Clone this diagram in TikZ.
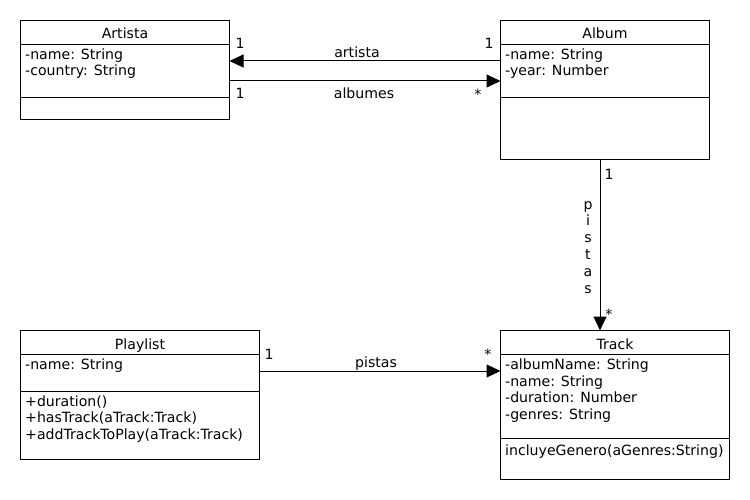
\documentclass[tikz,border=0pt]{standalone}
\usepackage{fontspec}
\setmainfont{DejaVu Sans}
\usetikzlibrary{arrows.meta}
\newcommand{\umlfont}{\fontsize{14.1}{16}\selectfont}
\begin{document}
\begin{tikzpicture}[x=1pt,y=-1pt,
  box/.style={draw,line width=1pt,inner sep=0pt,outer sep=0pt,anchor=north west},
  sep/.style={line width=1pt},
  txt/.style={inner sep=0pt,anchor=base west,font=\umlfont},
  ttl/.style={inner sep=0pt,anchor=base,font=\umlfont},
  lbl/.style={inner sep=0pt,anchor=base,font=\umlfont},
  assoc/.style={line width=1pt,-{Triangle[length=14pt,width=13pt]}}]
\useasboundingbox (0,0) rectangle (750,500);

% boxes
\node[box,minimum width=209pt,minimum height=99pt] (artista) at (20.5,20.5) {};
\node[box,minimum width=209pt,minimum height=139pt] (album) at (500.5,20.5) {};
\node[box,minimum width=239pt,minimum height=129pt] (playlist) at (20.5,330.5) {};
\node[box,minimum width=229pt,minimum height=149pt] (track) at (500.5,330.5) {};

% separators
\draw[sep] (artista.west |- 0,44.5) -- (artista.east |- 0,44.5);
\draw[sep] (artista.west |- 0,97.5) -- (artista.east |- 0,97.5);
\draw[sep] (album.west |- 0,44.5) -- (album.east |- 0,44.5);
\draw[sep] (album.west |- 0,97.5) -- (album.east |- 0,97.5);
\draw[sep] (playlist.west |- 0,354.5) -- (playlist.east |- 0,354.5);
\draw[sep] (playlist.west |- 0,391.5) -- (playlist.east |- 0,391.5);
\draw[sep] (track.west |- 0,354.5) -- (track.east |- 0,354.5);
\draw[sep] (track.west |- 0,438.5) -- (track.east |- 0,438.5);

% texts
\node[ttl] (tArtista) at (125,39) {Artista};
\node[txt] (aArt1) at (25,59.5) {-name: String};
\node[txt] (aArt2) at (25,76) {-country: String};

\node[ttl] (tAlbum) at (605,39) {Album};
\node[txt] (aAlb1) at (505,59.5) {-name: String};
\node[txt] (aAlb2) at (505,76) {-year: Number};

\node[ttl] (tPlaylist) at (140,349) {Playlist};
\node[txt] (aPl1) at (25,369.5) {-name: String};
\node[txt] (mPl1) at (25,406) {+duration()};
\node[txt] (mPl2) at (25,422.5) {+hasTrack(aTrack:Track)};
\node[txt] (mPl3) at (25,439) {+addTrackToPlay(aTrack:Track)};

\node[ttl] (tTrack) at (615,349) {Track};
\node[txt] (aTr1) at (505,369.5) {-albumName: String};
\node[txt] (aTr2) at (505,386) {-name: String};
\node[txt] (aTr3) at (505,402.5) {-duration: Number};
\node[txt] (aTr4) at (505,419) {-genres: String};
\node[txt] (mTr1) at (505,455.5) {incluyeGenero(aGenres:String)};

% connectors
\coordinate (yArt) at (0,61);
\coordinate (yAlb) at (0,81);
\coordinate (xPis) at (600,0);
\coordinate (yPis) at (0,371);
\draw[assoc] (album.west |- yArt) -- (artista.east |- yArt);
\draw[assoc] (artista.east |- yAlb) -- (album.west |- yAlb);
\draw[assoc] (album.south -| xPis) -- (track.north -| xPis);
\draw[assoc] (playlist.east |- yPis) -- (track.west |- yPis);

% labels
\node[lbl] (l1) at (240,49) {1};
\node[lbl] (l2) at (489,49) {1};
\node[lbl] (l3) at (357,57.5) {artista};
\node[lbl] (l4) at (240,98.5) {1};
\node[lbl] (l5) at (364,98.5) {albumes};
\node[lbl] (l6) at (478,99.5) {*};

\node[lbl] (l7) at (609,179) {1};
\node[lbl] (l8) at (588,209) {p};
\node[lbl] (l9) at (588,225.8) {i};
\node[lbl] (l10) at (588,242.6) {s};
\node[lbl] (l11) at (588,259.4) {t};
\node[lbl] (l12) at (588,276.2) {a};
\node[lbl] (l13) at (588,293) {s};
\node[lbl] (l14) at (609,319) {*};

\node[lbl] (l15) at (269,359) {1};
\node[lbl] (l16) at (376,367.5) {pistas};
\node[lbl] (l17) at (488,359) {*};
\end{tikzpicture}
\end{document}
